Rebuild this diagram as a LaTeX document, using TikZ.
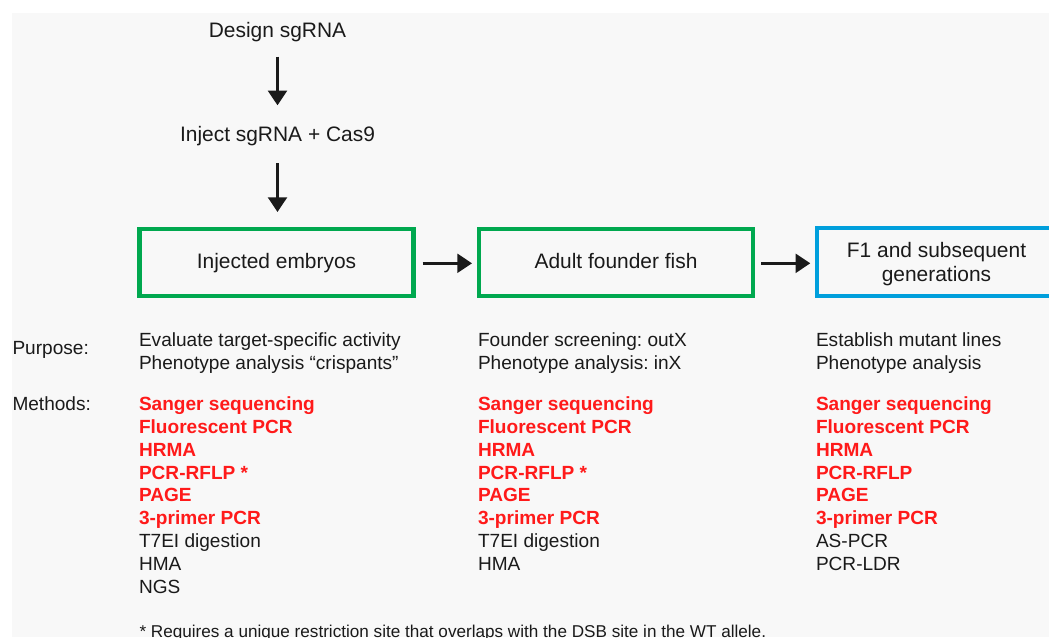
\documentclass[tikz,border=0pt]{standalone}
\usepackage{fontspec}
\setmainfont{Liberation Sans}
\usetikzlibrary{arrows.meta}
\definecolor{panel}{HTML}{F8F8F8}
\definecolor{ink}{HTML}{1A1A1A}
\definecolor{stagegreen}{HTML}{00A84F}
\definecolor{stageblue}{HTML}{009FDC}
\definecolor{methodred}{HTML}{FF1A1A}
\frenchspacing
\tikzset{
  txt/.style={inner sep=0pt, outer sep=0pt, text=ink, font=\fontsize{14.3pt}{17.1pt}\selectfont},
  big/.style={txt, font=\fontsize{15.7pt}{18.3pt}\selectfont},
  lbl/.style={txt, anchor=base west},
  small/.style={lbl, font=\fontsize{12.85pt}{15.4pt}\selectfont},
  red/.style={lbl, text=methodred, font=\fontsize{14.3pt}{17.1pt}\selectfont\bfseries},
  stage/.style={draw, line width=3.2pt, inner sep=0pt, outer sep=1.8pt},
  flow/.style={-{Triangle[width=14pt, length=11pt]}, line width=2.3pt, ink, shorten >=-1pt}
}
\begin{document}
\begin{tikzpicture}[x=0.75pt, y=-0.75pt]
  \useasboundingbox (0,0) rectangle (1049,637);
  \fill[white] (0,0) rectangle (1049,637);
  \fill[panel] (12,13) rectangle (1049,637);

  % top steps
  \node[big, anchor=base] (design) at (277.5,37.7) {Design sgRNA};
  \node[big, anchor=base] (inject) at (277.5,141.7) {Inject sgRNA + Cas9};

  % stage boxes
  \node[stage, draw=stagegreen, minimum width=274pt*0.75, minimum height=67pt*0.75] (embryo) at (276.5,262.5) {};
  \node[big, anchor=base] at (276.5,268.7) {Injected embryos};
  \node[stage, draw=stagegreen, minimum width=274pt*0.75, minimum height=67pt*0.75] (founder) at (616,262.5) {};
  \node[big, anchor=base] at (616,268.7) {Adult founder fish};
  \node[stage, draw=stageblue, minimum width=240pt*0.75, minimum height=68pt*0.75] (fone) at (937,262) {};
  \node[big, anchor=base] at (936.5,257.3) {F1 and subsequent};
  \node[big, anchor=base] at (936.5,281.7) {generations};

  % connectors
  \coordinate (d1) at (277.5,56.7);
  \coordinate (d2) at (277.5,104);
  \coordinate (i1) at (277.5,163.3);
  \coordinate (i2) at (277.5,210.7);
  \draw[flow] (d1) -- (d2);
  \draw[flow] (i1) -- (i2);
  \coordinate (h1a) at (422.7,263.3);
  \coordinate (h1b) at (470.7,263.3);
  \coordinate (h2a) at (761,263.3);
  \coordinate (h2b) at (809,263.3);
  \draw[flow] (h1a) -- (h1b);
  \draw[flow] (h2a) -- (h2b);

  % row labels
  \node[lbl] (purpose) at (12.5,354.3) {Purpose:};
  \node[lbl] (methods) at (12.5,410.7) {Methods:};

  % column 1
  \node[lbl] (p11) at (139,346.7) {Evaluate target-specific activity};
  \node[lbl] (p12) at (139,369.3) {Phenotype analysis “crispants”};
  \node[red] (m11) at (139,410.7) {Sanger sequencing};
  \node[red] (m12) at (139,433.5) {Fluorescent PCR};
  \node[red] (m13) at (139,456.3) {HRMA};
  \node[red] (m14) at (139,479.1) {PCR-RFLP *};
  \node[red] (m15) at (139,501.9) {PAGE};
  \node[red] (m16) at (139,524.7) {3-primer PCR};
  \node[lbl] (m17) at (139,547.5) {T7EI digestion};
  \node[lbl] (m18) at (139,570.3) {HMA};
  \node[lbl] (m19) at (139,593.1) {NGS};

  % column 2
  \node[lbl] (p21) at (478,346.7) {Founder screening: outX};
  \node[lbl] (p22) at (478,369.3) {Phenotype analysis: inX};
  \node[red] (m21) at (478,410.7) {Sanger sequencing};
  \node[red] (m22) at (478,433.5) {Fluorescent PCR};
  \node[red] (m23) at (478,456.3) {HRMA};
  \node[red] (m24) at (478,479.1) {PCR-RFLP *};
  \node[red] (m25) at (478,501.9) {PAGE};
  \node[red] (m26) at (478,524.7) {3-primer PCR};
  \node[lbl] (m27) at (478,547.5) {T7EI digestion};
  \node[lbl] (m28) at (478,570.3) {HMA};

  % column 3
  \node[lbl] (p31) at (816,346.7) {Establish mutant lines};
  \node[lbl] (p32) at (816,369.3) {Phenotype analysis};
  \node[red] (m31) at (816,410.7) {Sanger sequencing};
  \node[red] (m32) at (816,433.5) {Fluorescent PCR};
  \node[red] (m33) at (816,456.3) {HRMA};
  \node[red] (m34) at (816,479.1) {PCR-RFLP};
  \node[red] (m35) at (816,501.9) {PAGE};
  \node[red] (m36) at (816,524.7) {3-primer PCR};
  \node[lbl] (m37) at (816,547.5) {AS-PCR};
  \node[lbl] (m38) at (816,570.3) {PCR-LDR};

  % footnote
  \node[small] (note) at (139.5,637) {* Requires a unique restriction site that overlaps with the DSB site in the WT allele.};
\end{tikzpicture}
\end{document}
